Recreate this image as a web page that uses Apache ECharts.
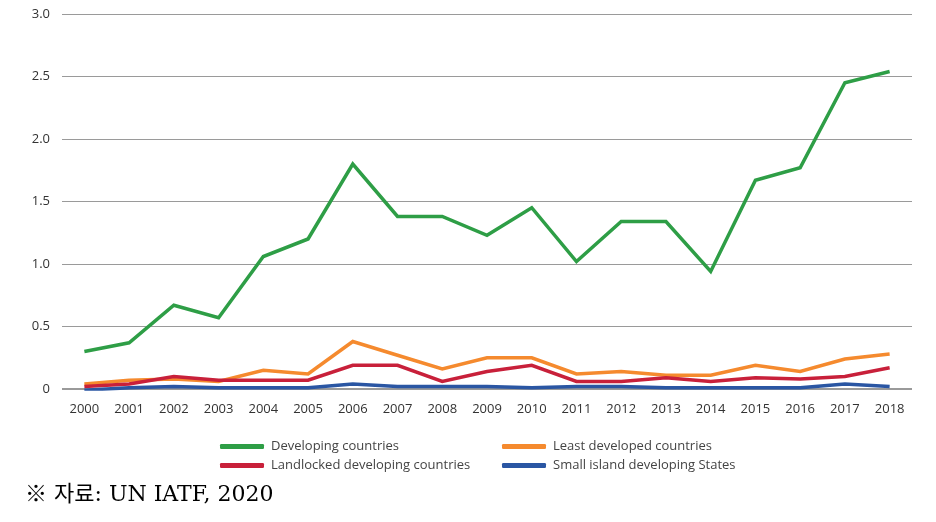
<!DOCTYPE html>
<html>
<head>
<meta charset="utf-8">
<script src="https://cdn.jsdelivr.net/npm/echarts@6/dist/echarts.min.js"></script>
<style>
html,body{margin:0;padding:0;background:#fff;}
#chart{width:936px;height:522px;}
</style>
</head>
<body>
<div id="chart"></div>
<script>
var years = ['2000','2001','2002','2003','2004','2005','2006','2007','2008','2009','2010','2011','2012','2013','2014','2015','2016','2017','2018'];
var yTicks = [0, 0.5, 1.0, 1.5, 2.0, 2.5, 3.0];
var seriesNames = ['Developing countries','Least developed countries','Landlocked developing countries','Small island developing States'];
var developing = [0.30,0.37,0.67,0.57,1.06,1.20,1.80,1.38,1.38,1.23,1.45,1.02,1.34,1.34,0.94,1.67,1.77,2.45,2.54];
var leastDeveloped = [0.04,0.07,0.08,0.06,0.15,0.12,0.38,0.27,0.16,0.25,0.25,0.12,0.14,0.11,0.11,0.19,0.14,0.24,0.28];
var landlocked = [0.02,0.04,0.10,0.07,0.07,0.07,0.19,0.19,0.06,0.14,0.19,0.06,0.06,0.09,0.06,0.09,0.08,0.10,0.17];
var smallIsland = [-0.01,0.01,0.02,0.01,0.01,0.01,0.04,0.02,0.02,0.02,0.01,0.02,0.02,0.01,0.01,0.01,0.01,0.04,0.02];
var sourceText = '※ 자료: UN IATF, 2020';

var colors = ['#2e9e46','#f58a2e','#c8203a','#2a56a3'];
var dataArr = [developing, leastDeveloped, landlocked, smallIsland];
var font = '"Open Sans", "Liberation Sans", sans-serif';

var chart = echarts.init(document.getElementById('chart'));
var legendPos = [[215,435],[497,435],[215,454],[497,454]];
var legends = seriesNames.map(function(n,i){
  return {
    data:[n], left: legendPos[i][0], top: legendPos[i][1],
    itemWidth: 44, itemHeight: 5, icon: 'roundRect', itemGap: 0,
    textStyle:{fontFamily: font, fontSize: 13, color:'#444', padding:[0,0,0,2]},
    selectedMode:false
  };
});
chart.setOption({
  animation:false,
  color: colors,
  grid:{left:62, right:24, top:14, bottom:133},
  legend: legends,
  graphic:[{
    type:'text', left:25, top:484,
    style:{text: sourceText, font: '22px "DejaVu Serif", "Noto Sans CJK KR", serif', fill:'#000'}
  }],
  xAxis:{
    type:'category', data: years, boundaryGap:true,
    axisLine:{show:false}, axisTick:{show:false},
    axisLabel:{fontFamily: font, fontSize:13, color:'#333', margin:14}
  },
  yAxis:{
    type:'value', min: yTicks[0], max: yTicks[yTicks.length-1], interval: 0.5,
    axisLine:{show:false}, axisTick:{show:false},
    axisLabel:{fontFamily: font, fontSize:13, color:'#333', margin:12,
      formatter:function(v){ return v===0 ? '0' : v.toFixed(1); }},
    splitLine:{lineStyle:{color:'#9a9a9a', width:1}}
  },
  series: seriesNames.map(function(n,i){
    return {
      name:n, type:'line', data: dataArr[i], symbol:'none',
      lineStyle:{width:3.5, color: colors[i], join:'miter'},
      itemStyle:{color: colors[i]},
      z: 2+i,
      markLine: i===0 ? {silent:true, symbol:'none', label:{show:false},
        lineStyle:{color:'#9a9a9a', width:2, type:'solid'}, data:[{yAxis:0}], z:1} : undefined
    };
  })
});
</script>
</body>
</html>
